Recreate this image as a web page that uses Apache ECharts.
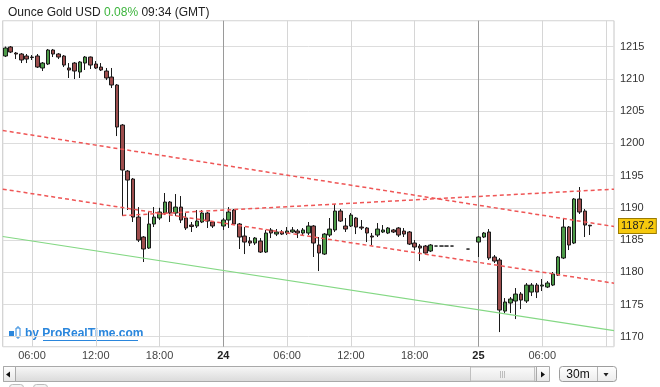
<!DOCTYPE html>
<html>
<head>
<meta charset="utf-8">
<script src="https://cdn.jsdelivr.net/npm/echarts@6/dist/echarts.min.js"></script>
<style>
html,body{margin:0;padding:0;background:#fff;}
#c{width:660px;height:387px;}
</style>
</head>
<body>
<div id="c"></div>
<script>
// ---- data (30-minute bars, from 23rd 03:30 GMT) ----
const startDay = 23, startMinute = 3 * 60 + 30, slotCount = 115;
const categories = [];
for (let i = 0; i < slotCount; i++) {
  const t = startMinute + i * 30;
  const d = startDay + Math.floor(t / 1440);
  const m = t % 1440;
  const hh = String(Math.floor(m / 60)).padStart(2, '0');
  const mm = String(m % 60).padStart(2, '0');
  categories.push(d + ' ' + hh + ':' + mm);
}
const N = null;
const open = [
 1213.56,1214.96,1214.02,1213.87,1213.56,1213.40,1213.56,1211.70,1212.32,1214.49,
 1213.87,1213.56,1211.70,1212.47,1211.08,1212.47,1213.40,1212.32,1211.85,1211.23,
 1210.30,1209.06,1202.85,1195.71,1194.47,1188.57,1185.47,1183.76,1187.49,1188.42,
 1189.19,1190.90,1189.19,1190.12,1188.42,1187.33,1187.18,1187.80,1189.19,1187.80,
 N,1187.18,1188.11,1189.66,1187.49,1185.62,1184.85,1184.54,1184.85,1183.14,
 1186.56,1185.93,1186.25,1186.09,1186.25,1186.40,1186.09,1186.09,1187.18,1184.23,
 1182.83,1185.78,1186.56,1189.50,1187.18,1187.18,1188.42,1187.02,1186.87,1185.62,
 1185.78,1186.25,1186.09,1186.56,1186.87,1186.40,1186.25,1184.54,1184.07,1184.07,
 1183.30,1184.07,1184.07,1184.07,1184.07,N,N,1183.60,N,1184.69,
 1185.47,1186.25,1182.37,1181.90,1173.98,1175.23,1175.54,1176.62,1175.54,1176.93,
 1178.02,1177.86,1177.71,1178.02,1179.57,1182.21,1187.02,1184.54,1191.37,1189.50,
 1187.30,N,N,N,N
];
const close = [
 1214.80,1214.18,1213.87,1212.94,1213.09,1213.33,1211.85,1212.47,1214.49,1213.87,
 1213.40,1212.16,1211.39,1211.23,1212.63,1213.40,1212.16,1211.70,1211.39,1210.15,
 1209.06,1202.54,1195.87,1194.31,1188.57,1185.00,1183.61,1187.49,1188.57,1189.35,
 1190.90,1189.19,1190.12,1188.11,1186.87,1187.10,1187.95,1189.19,1187.95,1187.18,
 N,1188.11,1189.35,1187.49,1185.47,1184.69,1184.54,1185.31,1183.14,1186.09,
 1186.09,1186.25,1185.93,1186.40,1186.56,1186.09,1186.56,1187.18,1184.54,1182.99,
 1185.93,1186.71,1189.50,1187.95,1186.71,1188.88,1187.02,1186.87,1186.09,1185.47,
 1186.71,1186.56,1186.87,1186.25,1185.78,1185.93,1184.38,1183.92,1183.76,1182.99,
 1184.23,1184.07,1184.07,1184.07,1184.07,N,N,1183.60,N,1185.47,
 1186.09,1182.21,1181.74,1174.14,1175.38,1175.85,1176.62,1175.69,1178.02,1178.02,
 1176.93,1178.02,1178.33,1179.73,1182.37,1187.02,1184.23,1191.37,1189.35,1187.33,
 1187.20,N,N,N,N
];
const low = [
 1213.40,1214.02,1213.09,1212.47,1212.47,1212.94,1211.70,1211.23,1212.16,1213.40,
 1213.09,1211.85,1210.15,1209.99,1210.15,1211.39,1211.54,1211.54,1211.23,1209.83,
 1208.59,1201.14,1188.73,1189.66,1187.80,1184.69,1181.59,1183.61,1187.02,1188.11,
 1188.88,1187.80,1188.73,1187.64,1186.56,1186.25,1186.87,1187.64,1186.87,1186.87,
 N,1186.56,1186.87,1187.33,1183.61,1182.83,1184.07,1184.23,1182.99,1182.99,
 1185.31,1185.62,1185.78,1185.78,1186.09,1185.31,1185.78,1185.78,1182.37,1180.19,
 1182.68,1185.47,1186.25,1187.80,1186.25,1187.02,1185.93,1186.56,1184.69,1184.23,
 1185.47,1186.09,1185.93,1186.09,1185.47,1185.47,1184.23,1183.45,1181.74,1182.83,
 1183.14,1184.07,1184.07,1184.07,1184.07,N,N,1183.60,N,1182.37,
 1185.31,1181.90,1181.43,1170.72,1173.67,1173.67,1172.74,1174.29,1175.23,1176.31,
 1176.00,1177.09,1177.55,1177.86,1179.42,1182.05,1183.45,1184.38,1189.04,1185.47,
 1185.78,N,N,N,N
];
const high = [
 1215.03,1215.11,1214.18,1214.02,1213.87,1213.71,1213.87,1212.63,1214.65,1214.65,
 1214.02,1213.71,1212.47,1212.63,1212.78,1213.56,1213.48,1212.78,1212.47,1211.70,
 1211.70,1209.21,1203.00,1195.87,1194.63,1190.12,1185.62,1189.35,1190.12,1190.00,
 1192.30,1191.06,1192.14,1191.83,1189.19,1187.80,1189.66,1189.66,1189.35,1187.95,
 N,1188.42,1190.12,1189.81,1187.64,1187.02,1185.47,1185.47,1185.31,1186.56,
 1186.87,1186.71,1186.56,1187.02,1187.02,1186.71,1186.87,1187.80,1187.33,1185.47,
 1186.09,1188.42,1190.59,1189.81,1188.42,1189.19,1188.57,1188.11,1187.02,1186.09,
 1187.64,1187.33,1187.02,1186.71,1187.02,1186.87,1186.40,1185.00,1184.38,1184.23,
 1184.38,1184.07,1184.07,1184.07,1184.07,N,N,1183.60,N,1185.62,
 1186.25,1186.71,1182.68,1182.21,1176.00,1176.16,1177.55,1176.93,1178.33,1178.33,
 1178.33,1178.95,1178.64,1180.04,1182.52,1188.42,1187.18,1191.52,1193.23,1189.81,
 1187.35,N,N,N,N
];
const lastPrice = 1187.2;
// trend lines: [slot index from 06:00 on 23rd, price]
const trendA = [[-5.5, 1202.0], [109.5, 1187.1]];
const trendB = [[17, 1188.8], [109.5, 1192.9]];
const trendC = [[-5.5, 1192.9], [109.5, 1178.3]];
const trendGreen = [[-5.5, 1185.55], [109.5, 1170.95]];
const yTicks = [1170, 1175, 1180, 1185, 1190, 1195, 1200, 1205, 1210, 1215];
const gridTimes = ['23 06:00','23 12:00','23 18:00','24 00:00','24 06:00','24 12:00','24 18:00','25 00:00','25 06:00','25 12:00'];
const dayStarts = ['24 00:00','25 00:00'];
const labelTimes = gridTimes.slice(0, 9);

const ohlc = open.map((o, i) => (o === null ? ['-','-','-','-'] : [o, close[i], low[i], high[i]]));

const chart = echarts.init(document.getElementById('c'), null, {renderer: 'canvas'});
const FONT = 'Liberation Sans, Arial, sans-serif';

function grad(a, b) {
  return new echarts.graphic.LinearGradient(0, 0, 0, 1, [{offset: 0, color: a}, {offset: 1, color: b}]);
}

chart.setOption({
  animation: false,
  backgroundColor: '#ffffff',
  title: {
    left: 3, top: 2,
    text: '{a|Ounce Gold USD }{g|0.08%}{a| 09:34 (GMT)}',
    textStyle: {
      fontWeight: 'normal',
      rich: {
        a: {fontSize: 12, color: '#222', fontFamily: FONT, fontWeight: 'normal'},
        g: {fontSize: 12, color: '#3db43d', fontFamily: FONT, fontWeight: 'normal'}
      }
    }
  },
  grid: {left: 2.75, right: 46, top: 20.7, bottom: 40.3, show: true, borderColor: '#c6c6c6', borderWidth: 1},
  xAxis: [{
    type: 'category', data: categories, boundaryGap: true,
    axisLine: {show: false}, axisTick: {show: false}, splitLine: {show: false},
    axisLabel: {
      margin: 4, fontSize: 11, color: '#444', fontFamily: FONT,
      interval: (idx, val) => labelTimes.indexOf(val) >= 0,
      formatter: (val) => {
        const parts = val.split(' ');
        if (parts[1] === '00:00') return '{b|' + parts[0] + '}';
        return parts[1];
      },
      rich: {b: {fontWeight: 'bold', fontSize: 11, color: '#222', fontFamily: FONT}}
    }
  }, {
    type: 'value', min: -5.5, max: 109.5, show: false
  }],
  yAxis: {
    type: 'value', position: 'right', min: 1168.45, max: 1219.04, splitNumber: 10,
    axisLine: {show: false}, axisTick: {show: false},
    splitLine: {lineStyle: {color: '#dddddd', width: 1}},
    axisLabel: {
      margin: 6, fontSize: 11, color: '#333', fontFamily: FONT,
      formatter: (v) => (yTicks.indexOf(Math.round(v * 100) / 100) >= 0 ? String(v) : '')
    }
  },
  series: [{
    type: 'line', xAxisIndex: 0, data: categories.map(() => '-'), silent: true, z: 1,
    symbol: 'none',
    markLine: {
      silent: true, symbol: 'none', z: 1, animation: false,
      label: {show: false},
      data: gridTimes.map(t => ({
        xAxis: t,
        lineStyle: {type: 'solid', width: 1, color: dayStarts.indexOf(t) >= 0 ? '#9a9a9a' : '#d6d6d6'}
      }))
    }
  }, {
    type: 'candlestick', xAxisIndex: 0, data: ohlc, barWidth: 4, z: 2,
    itemStyle: {
      color: '#4c9b48', color0: '#9d4d4d',
      borderColor: '#1a1a1a', borderColor0: '#1a1a1a', borderColorDoji: '#1a1a1a', borderWidth: 1
    },
    markLine: {
      silent: true, symbol: 'none', z: 10, animation: false,
      lineStyle: {color: 'rgba(0,0,0,0)', width: 1, type: 'solid'},
      label: {
        show: true, position: 'end', distance: 5,
        formatter: String(lastPrice),
        backgroundColor: '#f6c90e', borderColor: '#9b7b00', borderWidth: 1,
        padding: [2, 2, 1, 2], fontSize: 11, color: '#222', fontFamily: FONT
      },
      data: [{yAxis: lastPrice}]
    }
  }, {
    type: 'line', xAxisIndex: 1, data: trendA, symbol: 'none', silent: true, z: 3,
    lineStyle: {color: '#ef5656', width: 1.5, type: [4, 3]}
  }, {
    type: 'line', xAxisIndex: 1, data: trendB, symbol: 'none', silent: true, z: 3,
    lineStyle: {color: '#ef5656', width: 1.5, type: [4, 3]}
  }, {
    type: 'line', xAxisIndex: 1, data: trendC, symbol: 'none', silent: true, z: 3,
    lineStyle: {color: '#ef5656', width: 1.5, type: [4, 3]}
  }, {
    type: 'line', xAxisIndex: 1, data: trendGreen, symbol: 'none', silent: true, z: 3,
    lineStyle: {color: '#84d884', width: 1.2}
  }],
  graphic: [
    // logo
    {type: 'rect', shape: {x: 9, y: 331, width: 5, height: 6}, style: {fill: '#2a86dc'}},
    {type: 'line', shape: {x1: 18, y1: 326, x2: 18, y2: 339}, style: {stroke: '#2a86dc', lineWidth: 1}},
    {type: 'rect', shape: {x: 16, y: 328, width: 4, height: 9}, style: {fill: '#fff', stroke: '#2a86dc', lineWidth: 1}},
    {type: 'text', x: 25, y: 334, style: {text: 'by ProRealTime.com', fill: '#2a86dc', font: 'bold 12px ' + FONT, verticalAlign: 'middle'}},
    {type: 'line', shape: {x1: 43, y1: 340.5, x2: 138, y2: 340.5}, style: {stroke: '#2a86dc', lineWidth: 1}},
    // scrollbar
    {type: 'rect', shape: {x: 3.5, y: 366.5, width: 535, height: 15}, style: {fill: grad('#f8f8f8', '#d9d9d9'), stroke: '#a9a9a9'}},
    {type: 'rect', shape: {x: 3.5, y: 366.5, width: 12, height: 15}, style: {fill: grad('#ffffff', '#e6e6e6'), stroke: '#a9a9a9'}},
    {type: 'polygon', shape: {points: [[6, 374.5], [10, 371.5], [10, 377.5]]}, style: {fill: '#111'}},
    {type: 'rect', shape: {x: 470.5, y: 367, width: 64, height: 14}, style: {fill: grad('#fbfbfb', '#e8e8e8'), stroke: '#c0c0c0'}},
    {type: 'line', shape: {x1: 500.5, y1: 371, x2: 500.5, y2: 378}, style: {stroke: '#bdbdbd'}},
    {type: 'line', shape: {x1: 502.5, y1: 371, x2: 502.5, y2: 378}, style: {stroke: '#bdbdbd'}},
    {type: 'line', shape: {x1: 504.5, y1: 371, x2: 504.5, y2: 378}, style: {stroke: '#bdbdbd'}},
    {type: 'rect', shape: {x: 536.5, y: 366.5, width: 13, height: 15}, style: {fill: grad('#ffffff', '#e6e6e6'), stroke: '#a9a9a9'}},
    {type: 'polygon', shape: {points: [[541, 371.5], [545, 374.5], [541, 377.5]]}, style: {fill: '#111'}},
    {type: 'rect', shape: {x: 559.5, y: 366.5, width: 57, height: 15, r: 3}, style: {fill: grad('#ffffff', '#ebebeb'), stroke: '#9d9d9d'}},
    {type: 'line', shape: {x1: 597.5, y1: 367, x2: 597.5, y2: 381}, style: {stroke: '#b5b5b5'}},
    {type: 'text', x: 578, y: 374.5, style: {text: '30m', fill: '#111', font: '12px ' + FONT, align: 'center', verticalAlign: 'middle'}},
    {type: 'polygon', shape: {points: [[603.5, 373], [608.5, 373], [606, 376.5]]}, style: {fill: '#222'}},
    // bottom tabs
    {type: 'rect', shape: {x: 9.5, y: 384.5, width: 14, height: 6, r: 3}, style: {fill: '#f4f4f4', stroke: '#bbbbbb'}},
    {type: 'rect', shape: {x: 33.5, y: 384.5, width: 14, height: 6, r: 3}, style: {fill: '#f4f4f4', stroke: '#bbbbbb'}}
  ]
});
</script>
</body>
</html>
